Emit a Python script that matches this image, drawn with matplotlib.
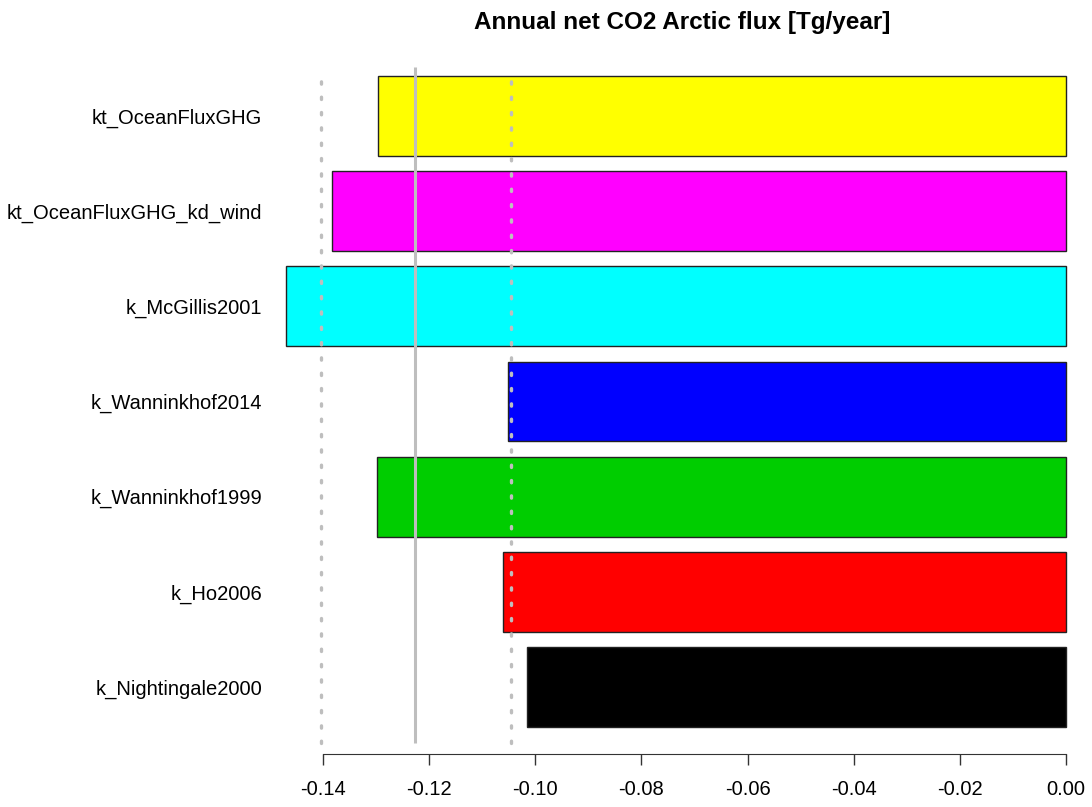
import matplotlib.pyplot as plt

# gas transfer parameterisations, bottom to top
names = ['k_Nightingale2000', 'k_Ho2006', 'k_Wanninkhof1999', 'k_Wanninkhof2014',
         'k_McGillis2001', 'kt_OceanFluxGHG_kd_wind', 'kt_OceanFluxGHG']
flux = [-0.1016, -0.1061, -0.1299, -0.1052, -0.1470, -0.1383, -0.1296]
colors = ['#000000', '#FF0000', '#00CD00', '#0000FF', '#00FFFF', '#FF00FF', '#FFFF00']

flux_mean = -0.1226
flux_low = -0.1404
flux_high = -0.1045
xticks = [-0.14, -0.12, -0.10, -0.08, -0.06, -0.04, -0.02, 0.00]

plt.rcParams['font.family'] = ['Liberation Sans', 'DejaVu Sans']

fig = plt.figure(figsize=(10.92, 8.07), dpi=100)
ax = fig.add_axes([272 / 1092, 53 / 807, 820 / 1092, 704 / 807])

pos = list(range(len(names)))
for xv in (flux_low, flux_high):
    ax.plot([xv, xv], [-0.588, 6.45], color='#bebebe', lw=2.4,
            linestyle=(0, (0.7, 3.9)), dash_capstyle='round', zorder=3)
ax.barh(pos, flux, height=0.84, color=colors, edgecolor='#222222', linewidth=1.0, zorder=2)
# mean line drawn over the bars
ax.vlines(flux_mean, -0.588, 6.515, color='#bebebe', lw=2.2, zorder=2.5)

ax.set_xlim(-0.14961, 0.0049)
ax.set_ylim(-0.704, 6.693)

ax.set_yticks(pos)
ax.set_yticklabels(names, fontsize=14.5)
ax.tick_params(axis='y', length=0, pad=7)

ax.set_xticks(xticks)
ax.set_xticklabels(['%.2f' % t for t in xticks], fontsize=14.5)
ax.tick_params(axis='x', length=8, width=1, color='#333333', pad=11)

for s in ('top', 'right', 'left'):
    ax.spines[s].set_visible(False)
ax.spines['bottom'].set_bounds(-0.14, 0.0)
ax.spines['bottom'].set_color('#333333')

fig.text(682.5 / 1092, 1 - 22 / 807, 'Annual net CO2 Arctic flux [Tg/year]',
         ha='center', va='center', fontsize=17.5, fontweight='bold')

fig.savefig('out.png', dpi=100)
